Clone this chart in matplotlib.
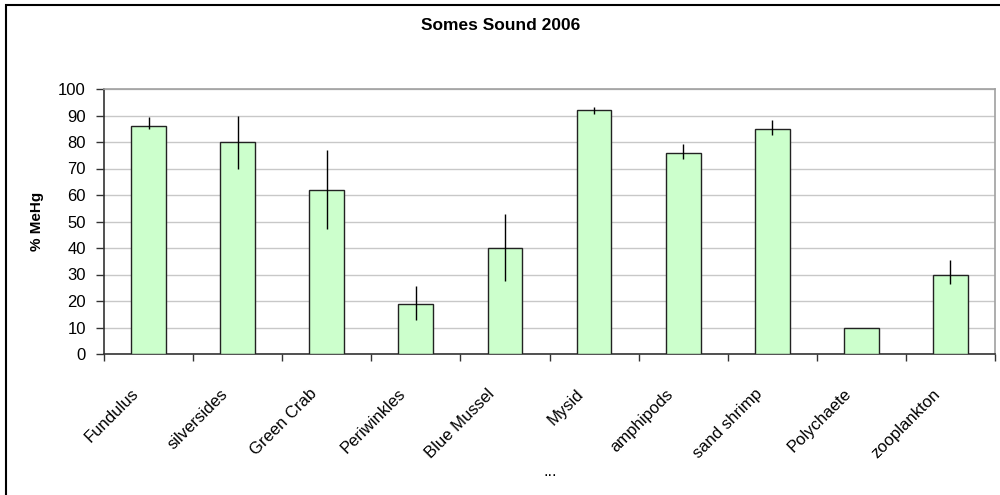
import matplotlib
matplotlib.use("Agg")
import matplotlib.pyplot as plt
from matplotlib.patches import Rectangle
import numpy as np

categories = ["Fundulus", "silversides", "Green Crab", "Periwinkles", "Blue Mussel",
              "Mysid", "amphipods", "sand shrimp", "Polychaete", "zooplankton"]
values = [86, 80, 62, 19, 40, 92, 76, 85, 10, 30]
err_low = [1.2, 10, 15, 6, 12.5, 1.3, 2.5, 2.5, 0, 3.5]
err_high = [3.5, 10, 15, 6.5, 13, 1.3, 3.2, 3.3, 0, 5.5]
yticks = [0, 10, 20, 30, 40, 50, 60, 70, 80, 90, 100]

plt.rcParams['font.family'] = ['Liberation Sans', 'DejaVu Sans']

fig = plt.figure(figsize=(10, 4.95), dpi=100)
ax = fig.add_axes([0.104, 1 - 354 / 495, 0.891, (354 - 89) / 495])

x = np.arange(len(categories)) + 0.5
ax.bar(x, values, width=0.39, color="#CCFFCC", edgecolor="#222222", linewidth=1.0, zorder=3)
ax.errorbar(x, values, yerr=[err_low, err_high], fmt="none", ecolor="black",
            elinewidth=1.0, capsize=0, zorder=4)

ax.set_xlim(0, len(categories))
ax.set_ylim(0, 100)
ax.set_yticks(yticks)
ax.set_yticklabels([str(t) for t in yticks], fontsize=12)
ax.set_xticks(np.arange(len(categories) + 1))
ax.set_xticklabels([])
ax.tick_params(axis="x", direction="out", length=5, width=1, color="#333333")
ax.tick_params(axis="y", direction="out", length=6, width=1, color="#333333", pad=7)

ax.yaxis.grid(True, color="#C8C8C8", linewidth=1.0, zorder=0)
ax.set_axisbelow(True)
for s in ["top", "right"]:
    ax.spines[s].set_color("#A0A0A0")
    ax.spines[s].set_linewidth(1.2)
for s in ["left", "bottom"]:
    ax.spines[s].set_color("#333333")
    ax.spines[s].set_linewidth(1.2)

for xi, lab in zip(x, categories):
    ax.annotate(lab, xy=(xi, 0), xycoords=("data", "data"),
                xytext=(-9, -27), textcoords="offset points",
                ha="right", va="center", rotation=45, rotation_mode="anchor",
                fontsize=12)

ax.set_ylabel("% MeHg", fontsize=11, fontweight="bold", labelpad=10)

fig.text(0.501, 1 - 25 / 495, "Somes Sound 2006", ha="center", va="center",
         fontsize=12.5, fontweight="bold")
fig.text(0.55, 1 - 472 / 495, "...", ha="center", va="center", fontsize=12)

fig.patches.append(Rectangle((6 / 1000, -0.1), 1.2, 1 - 5 / 495 + 0.1,
                             transform=fig.transFigure, fill=False,
                             edgecolor="black", linewidth=1.5))

fig.savefig("out.png", dpi=100)
